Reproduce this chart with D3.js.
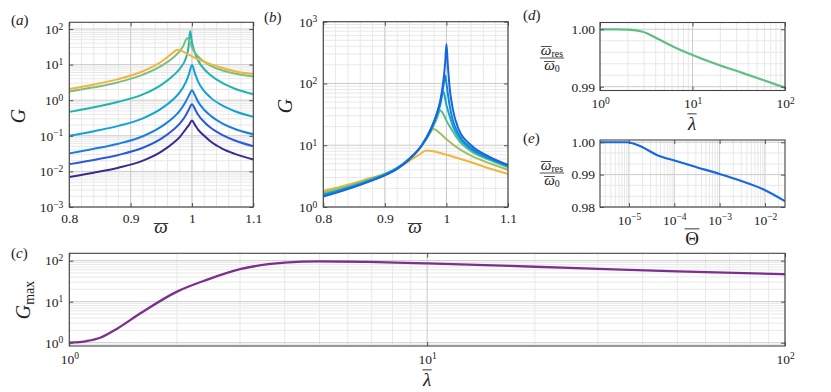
<!DOCTYPE html>
<html>
<head>
<meta charset="utf-8">
<script src="https://cdn.jsdelivr.net/npm/d3@7"></script>
<style>
  body { margin: 0; background: #fff; }
</style>
</head>
<body>
<script>
// ---------- data ----------
// panel (a): G vs omega-bar, one curve per array, [omega, G]
const a1 = [[0.8,0.0070],[0.84,0.0092],[0.88,0.0127],[0.92,0.020],[0.95,0.036],[0.97,0.064],[0.98,0.092],[0.99,0.155],[0.995,0.2],[1.0,0.27],[1.005,0.2],[1.01,0.15],[1.02,0.1],[1.03,0.07],[1.05,0.043],[1.07,0.031],[1.1,0.0215]]
const a2 = [[0.8,0.016],[0.84,0.021],[0.88,0.029],[0.92,0.046],[0.95,0.083],[0.97,0.15],[0.98,0.22],[0.99,0.38],[0.995,0.55],[1.0,0.77],[1.005,0.56],[1.01,0.39],[1.02,0.245],[1.03,0.17],[1.05,0.105],[1.07,0.074],[1.1,0.051]]
const a3 = [[0.8,0.032],[0.84,0.043],[0.88,0.06],[0.92,0.097],[0.95,0.18],[0.97,0.33],[0.98,0.5],[0.99,0.92],[0.995,1.35],[1.0,1.9],[1.005,1.35],[1.01,0.9],[1.02,0.54],[1.03,0.37],[1.05,0.22],[1.07,0.155],[1.1,0.11]]
const a4 = [[0.8,0.1],[0.84,0.135],[0.88,0.19],[0.92,0.31],[0.95,0.58],[0.97,1.08],[0.98,1.65],[0.99,3.2],[0.995,5.3],[1.0,9.8],[1.005,5.6],[1.01,3.3],[1.02,1.8],[1.03,1.2],[1.05,0.7],[1.07,0.49],[1.1,0.34]]
const a5 = [[0.8,0.47],[0.84,0.63],[0.88,0.9],[0.92,1.45],[0.95,2.7],[0.97,5.0],[0.98,7.6],[0.99,15],[0.994,28],[0.997,88],[1.0,42],[1.005,21],[1.01,13],[1.02,7.4],[1.03,5.1],[1.05,3.0],[1.07,2.1],[1.1,1.47]]
const a6 = [[0.8,1.75],[0.84,2.3],[0.88,3.2],[0.92,5.2],[0.95,9.2],[0.97,16],[0.98,24],[0.986,34],[0.992,55],[0.997,40],[1.0,30],[1.01,17],[1.02,12],[1.03,9.4],[1.05,6.8],[1.07,5.6],[1.1,4.6]]
const a7 = [[0.8,2.05],[0.84,2.75],[0.88,3.9],[0.92,6.5],[0.95,12],[0.965,19],[0.977,26],[0.99,21],[1.0,17],[1.01,14],[1.02,12],[1.03,10.3],[1.05,8],[1.07,6.5],[1.1,5.4]]
const curvesA = [a1, a2, a3, a4, a5, a6, a7]
const colorsA = ["#392b8e", "#2a5ad9", "#1a80df", "#13a3d2", "#22b3ac", "#7cbe7f", "#f1b43c"]

// panel (b)
const b1 = [[0.8,1.48],[0.84,1.95],[0.88,2.7],[0.9,3.25],[0.92,4.15],[0.94,5.95],[0.96,10],[0.975,18.5],[0.985,34],[0.99,52],[0.995,110],[0.998,220],[1.0,435],[1.002,220],[1.005,90],[1.01,40],[1.02,18],[1.04,10],[1.07,6.5],[1.1,4.8]]
const b2 = [[0.8,1.52],[0.84,2.0],[0.88,2.75],[0.9,3.3],[0.92,4.2],[0.94,6.0],[0.96,10],[0.975,18.5],[0.985,33],[0.99,50],[0.995,90],[0.998,135],[1.0,100],[1.005,45],[1.01,26],[1.02,15],[1.04,9],[1.07,6.2],[1.1,4.7]]
const b3 = [[0.8,1.58],[0.84,2.05],[0.88,2.8],[0.9,3.35],[0.92,4.25],[0.94,6.1],[0.96,10],[0.975,18],[0.985,32],[0.99,45],[0.995,74],[1.0,45],[1.005,30],[1.01,21],[1.02,13.5],[1.04,8.5],[1.07,6.0],[1.1,4.6]]
const b4 = [[0.8,1.64],[0.84,2.1],[0.88,2.85],[0.9,3.4],[0.92,4.3],[0.94,6.1],[0.96,9.8],[0.975,17],[0.985,28],[0.99,37],[0.995,32],[1.0,25],[1.01,17],[1.02,12],[1.04,8.0],[1.07,5.8],[1.1,4.4]]
const b5 = [[0.8,1.72],[0.84,2.2],[0.88,2.95],[0.9,3.45],[0.92,4.3],[0.94,6.0],[0.955,8.5],[0.967,12.5],[0.979,18.4],[0.99,15.5],[1.0,12.5],[1.02,8.8],[1.04,6.8],[1.07,5.1],[1.1,4.0]]
const b6 = [[0.8,1.82],[0.84,2.3],[0.88,3.0],[0.9,3.4],[0.92,4.2],[0.94,5.6],[0.955,7.0],[0.968,8.2],[0.98,7.9],[1.0,7.0],[1.02,6.1],[1.04,5.3],[1.07,4.2],[1.1,3.43]]
const curvesB = [b6, b5, b4, b3, b2, b1]
const colorsB = ["#f2b53b", "#a2be64", "#58bd8e", "#15a6cb", "#0e88d9", "#1766df"]

// panel (c): G_max vs lambda-bar
const lambdaC = [1, 1.12, 1.22, 1.36, 1.58, 2, 2.42, 3, 4, 5, 6.8, 10, 20, 30, 50, 100]
const gmaxC   = [1.0, 1.1, 1.32, 2.2, 5.2, 17.6, 34, 62, 89, 96, 93, 86, 71, 63, 55, 46.6]

// panel (d): omega_res/omega_0 vs lambda-bar
const lambdaD = [1, 1.5, 2, 2.9, 4.1, 6.2, 10, 18.3, 32.5, 58, 100]
const ratioD  = [1.0000, 1.0000, 0.99995, 0.99958, 0.99843, 0.99697, 0.99552, 0.99390, 0.99255, 0.99117, 0.98983]

// panel (e): omega_res/omega_0 vs Theta-bar
const thetaE = [2.3e-6, 9e-6, 1.7e-5, 4.1e-5, 1.1e-4, 3.1e-4, 1e-3, 2.8e-3, 9.1e-3, 2.77e-2]
const ratioE = [1.0000, 1.0000, 0.9989, 0.9961, 0.9942, 0.9923, 0.9902, 0.9882, 0.9855, 0.9818]

// tick labels
const omegaTicks = [0.8, 0.9, 1, 1.1]
const gTicksA = [1e-3, 1e-2, 1e-1, 1, 10, 100]
const gTicksB = [1, 10, 100, 1000]
const gTicksC = [1, 10, 100]
const lambdaTicks = [1, 10, 100]
const ratioTicksD = [0.99, 1.0]
const ratioTicksE = [0.98, 0.99, 1.0]
const thetaTicks = [1e-5, 1e-4, 1e-3, 1e-2]

// ---------- drawing ----------
const ink = "#222"
const serif = "Liberation Serif"
const svg = d3.select("body").append("svg").attr("width", 831).attr("height", 392)

let clipN = 0

function logMinor(lo, hi) {
  const out = []
  for (let e = lo; e < hi; e++) for (let k = 2; k < 10; k++) out.push(k * Math.pow(10, e))
  return out
}
const within = (s) => (v) => v >= Math.min(...s.domain()) * 0.9999 && v <= Math.max(...s.domain()) * 1.0001

function panel(box, x, y, gx, gy, gxMinor, gyMinor) {
  const g = svg.append("g")
  gxMinor = gxMinor.filter(within(x)); gyMinor = gyMinor.filter(within(y))
  gx = gx.filter(within(x)); gy = gy.filter(within(y))
  g.append("g").selectAll("line").data(gxMinor).join("line")
    .attr("x1", d => x(d)).attr("x2", d => x(d)).attr("y1", box.t).attr("y2", box.b)
    .attr("stroke", "#e8e8e8")
  g.append("g").selectAll("line").data(gyMinor).join("line")
    .attr("y1", d => y(d)).attr("y2", d => y(d)).attr("x1", box.l).attr("x2", box.r)
    .attr("stroke", "#e8e8e8")
  g.append("g").selectAll("line").data(gx).join("line")
    .attr("x1", d => x(d)).attr("x2", d => x(d)).attr("y1", box.t).attr("y2", box.b)
    .attr("stroke", "#cbcbcb")
  g.append("g").selectAll("line").data(gy).join("line")
    .attr("y1", d => y(d)).attr("y2", d => y(d)).attr("x1", box.l).attr("x2", box.r)
    .attr("stroke", "#cbcbcb")
  const id = "clip" + (clipN++)
  svg.append("clipPath").attr("id", id).append("rect")
    .attr("x", box.l).attr("y", box.t).attr("width", box.r - box.l).attr("height", box.b - box.t)
  const plot = g.append("g").attr("clip-path", `url(#${id})`)
  return { g, plot }
}

function frame(p, box) {
  p.g.append("rect").attr("x", box.l).attr("y", box.t)
    .attr("width", box.r - box.l).attr("height", box.b - box.t)
    .attr("fill", "none").attr("stroke", "#444").attr("stroke-width", 1.1)
}

function addAxis(g, axis, transform, pow, fmt) {
  const a = g.append("g").attr("transform", transform)
    .call(axis.tickFormat(pow ? () => "" : fmt))
  a.attr("font-family", null).attr("font-size", 13.5)
  a.select(".domain").remove()
  a.selectAll(".tick line").attr("stroke", "#555")
  a.selectAll(".tick text").attr("fill", ink).style("font-family", serif)
  if (pow) a.selectAll(".tick text").each(function (d) {
    const t = d3.select(this), e = Math.round(Math.log10(d))
    t.append("tspan").text("10")
    t.append("tspan").attr("dy", "-0.45em").attr("font-size", 9.5).text(e < 0 ? "\u2212" + (-e) : e)
  })
  return a
}

function mirror(g, box, x, y, xt, yt) {
  g.append("g").attr("transform", `translate(0,${box.t})`)
    .call(d3.axisTop(x).tickValues(xt).tickSize(-4).tickFormat(""))
    .call(s => { s.select(".domain").remove(); s.selectAll("line").attr("stroke", "#555") })
  g.append("g").attr("transform", `translate(${box.r},0)`)
    .call(d3.axisRight(y).tickValues(yt).tickSize(-4).tickFormat(""))
    .call(s => { s.select(".domain").remove(); s.selectAll("line").attr("stroke", "#555") })
}

function txt(x, y, size) {
  return svg.append("text").attr("x", x).attr("y", y).attr("font-size", size)
    .attr("fill", ink).style("font-family", serif)
}

function tag(x, y, s) {
  const t = txt(x, y, 15)
  t.append("tspan").text("(")
  t.append("tspan").attr("font-style", "italic").text(s)
  t.append("tspan").text(")")
}

function barSym(x, y, s, size, lift, italic) {
  const t = txt(x, y, size).attr("text-anchor", "middle")
    .attr("font-style", italic ? "italic" : null).text(s)
  const w = t.node().getComputedTextLength()
  svg.append("line").attr("x1", x - w / 2 - 0.5).attr("x2", x + w / 2 + 0.5)
    .attr("y1", y - size * lift).attr("y2", y - size * lift)
    .attr("stroke", ink).attr("stroke-width", 0.9)
}

function yLabel(x, y, main, sub) {
  const t = txt(0, 0, 20).attr("transform", `translate(${x},${y}) rotate(-90)`)
    .attr("text-anchor", "middle")
  t.append("tspan").attr("font-style", "italic").text(main)
  if (sub) t.append("tspan").attr("font-size", 14).attr("dy", 4).text(sub)
}

function ratioLabel(cx, yBar) {
  const num = txt(cx, yBar - 3, 15).attr("text-anchor", "middle")
  const w1 = num.append("tspan").attr("font-style", "italic").text("ω")
  num.append("tspan").attr("font-size", 10).attr("dy", 2).text("res")
  const den = txt(cx, yBar + 12, 15).attr("text-anchor", "middle")
  const w2 = den.append("tspan").attr("font-style", "italic").text("ω")
  den.append("tspan").attr("font-size", 10).attr("dy", 2).text("0")
  const nw = num.node().getComputedTextLength(), ow = w1.node().getComputedTextLength()
  const dw = den.node().getComputedTextLength(), ow2 = w2.node().getComputedTextLength()
  svg.append("line").attr("x1", cx - nw / 2).attr("x2", cx - nw / 2 + ow)
    .attr("y1", yBar - 11.5).attr("y2", yBar - 11.5).attr("stroke", ink).attr("stroke-width", 0.8)
  svg.append("line").attr("x1", cx - dw / 2).attr("x2", cx - dw / 2 + ow2)
    .attr("y1", yBar + 3.5).attr("y2", yBar + 3.5).attr("stroke", ink).attr("stroke-width", 0.8)
  svg.append("line").attr("x1", cx - nw / 2 - 1).attr("x2", cx + nw / 2 + 1)
    .attr("y1", yBar).attr("y2", yBar).attr("stroke", ink).attr("stroke-width", 0.8)
}

const omegaGrid = d3.range(0.8, 1.1001, 0.02)

// ---- panel (a) ----
const boxA = { l: 69.3, r: 253.3, t: 22.3, b: 207 }
const xA = d3.scaleLinear().domain([0.8, 1.1]).range([boxA.l, boxA.r])
const yA = d3.scaleLog().domain([1e-3, 154]).range([boxA.b, boxA.t])
const pA = panel(boxA, xA, yA, omegaTicks, gTicksA, omegaGrid, logMinor(-3, 3))
const lineA = d3.line().x(d => xA(d[0])).y(d => yA(d[1])).curve(d3.curveMonotoneX)
pA.plot.selectAll("path").data(curvesA).join("path")
  .attr("d", lineA).attr("fill", "none").attr("stroke", (d, i) => colorsA[i]).attr("stroke-width", 2)
addAxis(pA.g, d3.axisBottom(xA).tickValues(omegaTicks).tickSize(-4).tickPadding(6), `translate(0,${boxA.b})`, false, d3.format("~g"))
addAxis(pA.g, d3.axisLeft(yA).tickValues(gTicksA).tickSize(-4).tickPadding(6), `translate(${boxA.l},0)`, true)
mirror(pA.g, boxA, xA, yA, omegaTicks, gTicksA)
frame(pA, boxA)
tag(11, 25, "a")
yLabel(25, 116, "G")
barSym(161, 233, "ω", 19, 0.5, true)

// ---- panel (b) ----
const boxB = { l: 323.3, r: 508, t: 21.7, b: 207 }
const xB = d3.scaleLinear().domain([0.8, 1.1]).range([boxB.l, boxB.r])
const yB = d3.scaleLog().domain([1, 1000]).range([boxB.b, boxB.t])
const pB = panel(boxB, xB, yB, omegaTicks, gTicksB, omegaGrid, logMinor(0, 3))
const lineB = d3.line().x(d => xB(d[0])).y(d => yB(d[1])).curve(d3.curveMonotoneX)
pB.plot.selectAll("path").data(curvesB).join("path")
  .attr("d", lineB).attr("fill", "none").attr("stroke", (d, i) => colorsB[i]).attr("stroke-width", 2)
addAxis(pB.g, d3.axisBottom(xB).tickValues(omegaTicks).tickSize(-4).tickPadding(6), `translate(0,${boxB.b})`, false, d3.format("~g"))
addAxis(pB.g, d3.axisLeft(yB).tickValues(gTicksB).tickSize(-4).tickPadding(6), `translate(${boxB.l},0)`, true)
mirror(pB.g, boxB, xB, yB, omegaTicks, gTicksB)
frame(pB, boxB)
tag(264, 22, "b")
yLabel(292, 106, "G")
barSym(415, 233, "ω", 19, 0.5, true)

// ---- panel (d) ----
const boxD = { l: 600, r: 785, t: 22.5, b: 90.5 }
const xD = d3.scaleLog().domain([1, 100]).range([boxD.l, boxD.r])
const yD = d3.scaleLinear().domain([0.98934, 1.00118]).range([boxD.b, boxD.t])
const pD = panel(boxD, xD, yD, lambdaTicks, ratioTicksD, logMinor(0, 2), [0.992, 0.994, 0.996, 0.998])
pD.plot.append("path").datum(lambdaD.map((l, i) => [l, ratioD[i]]))
  .attr("d", d3.line().x(d => xD(d[0])).y(d => yD(d[1])).curve(d3.curveMonotoneX))
  .attr("fill", "none").attr("stroke", "#5fbf81").attr("stroke-width", 2.2)
addAxis(pD.g, d3.axisBottom(xD).tickValues(lambdaTicks).tickSize(-4).tickPadding(8), `translate(0,${boxD.b})`, true)
addAxis(pD.g, d3.axisLeft(yD).tickValues(ratioTicksD).tickSize(-4).tickPadding(5), `translate(${boxD.l},0)`, false, d3.format(".2f"))
mirror(pD.g, boxD, xD, yD, lambdaTicks, ratioTicksD)
frame(pD, boxD)
tag(523, 20, "d")
ratioLabel(552, 58)
barSym(692, 130, "λ", 19, 0.85, true)

// ---- panel (e) ----
const boxE = { l: 600, r: 785, t: 140, b: 207 }
const xE = d3.scaleLog().domain([2.3e-6, 0.0277]).range([boxE.l, boxE.r])
const yE = d3.scaleLinear().domain([0.98, 1.0007]).range([boxE.b, boxE.t])
const pE = panel(boxE, xE, yE, thetaTicks, ratioTicksE, logMinor(-6, -1), [0.9833, 0.9867, 0.9933, 0.9967])
pE.plot.append("path").datum(thetaE.map((t, i) => [t, ratioE[i]]))
  .attr("d", d3.line().x(d => xE(d[0])).y(d => yE(d[1])).curve(d3.curveMonotoneX))
  .attr("fill", "none").attr("stroke", "#1668e0").attr("stroke-width", 2.2)
addAxis(pE.g, d3.axisBottom(xE).tickValues(thetaTicks).tickSize(-4).tickPadding(8), `translate(0,${boxE.b})`, true)
addAxis(pE.g, d3.axisLeft(yE).tickValues(ratioTicksE).tickSize(-4).tickPadding(5), `translate(${boxE.l},0)`, false, d3.format(".2f"))
mirror(pE.g, boxE, xE, yE, thetaTicks, ratioTicksE)
frame(pE, boxE)
tag(523, 143, "e")
ratioLabel(552, 173)
barSym(692, 245, "Θ", 19, 0.85, false)

// ---- panel (c) ----
const boxC = { l: 69.3, r: 785, t: 253.3, b: 346 }
const xC = d3.scaleLog().domain([1, 100]).range([boxC.l, boxC.r])
const yC = d3.scaleLog().domain([0.832, 151]).range([boxC.b, boxC.t])
const pC = panel(boxC, xC, yC, lambdaTicks, gTicksC, logMinor(0, 2), logMinor(-1, 3))
pC.plot.append("path").datum(lambdaC.map((l, i) => [l, gmaxC[i]]))
  .attr("d", d3.line().x(d => xC(d[0])).y(d => yC(d[1])).curve(d3.curveMonotoneX))
  .attr("fill", "none").attr("stroke", "#7d2f8e").attr("stroke-width", 2.3)
addAxis(pC.g, d3.axisBottom(xC).tickValues(lambdaTicks).tickSize(-4).tickPadding(8), `translate(0,${boxC.b})`, true)
addAxis(pC.g, d3.axisLeft(yC).tickValues(gTicksC).tickSize(-4).tickPadding(6), `translate(${boxC.l},0)`, true)
mirror(pC.g, boxC, xC, yC, lambdaTicks, gTicksC)
frame(pC, boxC)
tag(11, 258, "c")
yLabel(30, 300, "G", "max")
barSym(427, 386, "λ", 19, 0.85, true)
</script>
</body>
</html>
